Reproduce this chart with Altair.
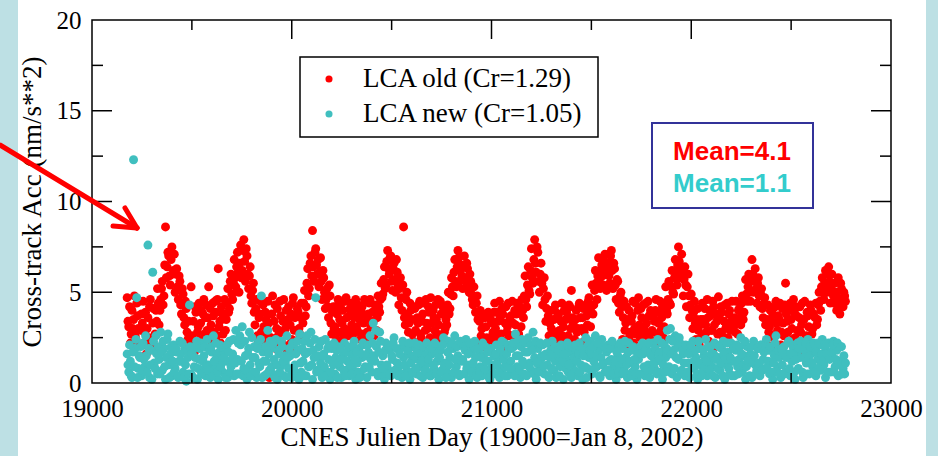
import altair as alt
import pandas as pd

# ---------------- data ----------------
START_DAY = 19176   # first sample (CNES Julian day)
STEP_DAYS = 8       # sampling step of each typed list
MID_OFFSET = 4      # the second list of each series falls between the first one's days

# LCA old (Cr=1.29) cross-track acceleration, nm/s**2 (rows of 10 samples = 80 days)
lca_old = [
    4.7, 3.1, 2.2, 4.0, 3.5, 2.6, 4.4, 3.0, 2.1, 3.8,
    4.5, 2.8, 1.6, 3.6, 4.2, 2.3, 3.3, 1.8, 4.0, 5.2,
    3.2, 4.6, 5.6, 4.8, 8.6, 6.4, 7.0, 5.4, 7.5, 6.2,
    5.0, 6.3, 4.6, 5.6, 3.8, 4.9, 3.2, 4.1, 2.4, 1.8,
    5.3, 2.2, 1.7, 3.9, 2.8, 4.4, 3.3, 2.1, 4.6, 3.6,
    2.9, 5.3, 4.1, 2.3, 3.7, 4.5, 2.6, 6.3, 3.4, 4.2,
    2.7, 4.6, 3.5, 5.2, 4.1, 6.0, 4.6, 6.8, 5.3, 7.2,
    5.0, 7.6, 6.2, 7.9, 5.6, 7.0, 5.2, 6.4, 4.4, 5.5,
    3.2, 4.6, 2.2, 3.8, 2.8, 4.3, 2.0, 3.5, 4.5, 0.3,
    2.5, 4.8, 3.4, 1.9, 4.1, 2.9, 3.7, 2.2, 4.6, 3.0,
    1.8, 4.2, 3.2, 2.4, 4.7, 3.6, 1.7, 3.9, 2.7, 4.4,
    3.3, 5.1, 4.2, 6.3, 5.2, 7.0, 8.4, 5.6, 7.4, 6.0,
    5.3, 6.9, 4.6, 5.8, 4.1, 5.2, 3.6, 4.8, 2.7, 4.2,
    3.1, 2.4, 4.6, 3.5, 2.3, 4.0, 3.0, 4.7, 2.6, 3.7,
    4.4, 2.6, 3.6, 4.6, 2.9, 3.9, 2.4, 4.2, 3.3, 4.5,
    2.8, 3.8, 4.6, 2.5, 3.4, 4.3, 2.9, 4.8, 3.9, 5.5,
    4.9, 6.4, 5.4, 7.3, 6.0, 7.0, 5.1, 6.6, 5.0, 6.1,
    4.3, 5.8, 4.0, 8.6, 3.2, 5.0, 2.8, 4.4, 3.5, 2.3,
    4.1, 1.9, 3.3, 4.5, 2.5, 3.8, 2.2, 4.6, 3.0, 3.9,
    4.7, 2.4, 3.6, 4.3, 2.7, 3.2, 4.5, 2.3, 3.9, 3.0,
    3.2, 5.0, 4.1, 5.8, 4.8, 6.8, 5.3, 7.3, 5.6, 6.5,
    5.2, 7.0, 5.6, 6.3, 5.0, 5.6, 4.6, 5.3, 3.9, 4.8,
    2.2, 4.0, 3.0, 2.0, 3.6, 2.5, 3.9, 2.1, 3.3, 2.8,
    4.4, 2.3, 3.4, 4.5, 2.7, 3.8, 2.0, 4.2, 3.1, 2.6,
    3.7, 4.5, 2.2, 3.2, 4.4, 2.7, 3.9, 4.6, 3.6, 5.9,
    4.2, 6.4, 4.9, 7.4, 5.5, 7.9, 6.1, 7.2, 5.0, 6.6,
    4.3, 5.8, 3.4, 4.8, 2.6, 4.0, 2.1, 3.5, 4.3, 2.8,
    3.8, 2.2, 4.4, 3.1, 2.0, 3.9, 2.6, 4.2, 5.1, 3.3,
    2.4, 4.0, 3.0, 4.4, 2.2, 3.6, 2.8, 4.3, 3.2, 4.7,
    3.1, 5.4, 4.3, 6.2, 4.6, 6.9, 5.2, 6.5, 5.4, 7.1,
    5.1, 6.6, 5.5, 7.3, 5.2, 6.3, 4.6, 5.6, 3.9, 5.0,
    2.4, 4.5, 3.3, 2.1, 4.0, 2.8, 3.7, 2.2, 4.4, 3.1,
    4.7, 2.5, 3.6, 4.3, 2.0, 3.3, 4.5, 2.7, 3.9, 2.3,
    3.4, 4.6, 2.2, 3.9, 2.9, 4.2, 3.1, 5.3, 3.8, 5.6,
    4.3, 6.2, 4.9, 6.8, 5.4, 7.5, 5.8, 7.1, 4.8, 6.4,
    4.2, 6.0, 3.6, 4.9, 3.0, 4.5, 2.4, 4.1, 2.1, 3.5,
    4.4, 2.6, 3.2, 4.6, 2.3, 3.7, 2.9, 4.2, 2.0, 3.4,
    4.75, 2.8, 3.9, 2.2, 4.3, 3.1, 2.5, 4.0, 3.4, 2.1,
    3.6, 4.5, 2.7, 4.1, 3.2, 4.8, 3.9, 5.7, 4.5, 6.0,
    4.5, 6.8, 5.0, 6.3, 4.4, 5.8, 4.2, 5.2, 3.6, 4.7,
    2.2, 4.3, 3.1, 2.0, 3.8, 2.6, 4.5, 2.9, 3.5, 2.1,
    4.1, 2.6, 5.5, 3.4, 2.3, 4.4, 3.0, 4.6, 2.5, 3.7,
    2.3, 4.2, 3.2, 1.5, 4.5, 2.6, 3.7, 2.2, 4.0, 3.0,
    2.1, 4.4, 3.5, 5.0, 4.0, 5.8, 4.6, 6.2, 5.0, 6.4,
    4.4, 6.0, 4.8, 5.5, 4.0, 5.8, 3.8, 5.2, 4.2, 4.8,
]
lca_old_mid = [
    3.4, 4.2, 2.7, 3.0, 4.8, 2.4, 3.7, 4.5, 2.9, 3.3,
    2.1, 3.9, 3.0, 2.5, 4.6, 1.9, 4.1, 2.7, 3.4, 4.4,
    4.0, 5.2, 4.3, 6.5, 5.8, 7.2, 5.9, 6.8, 6.0, 7.1,
    6.0, 5.3, 5.9, 4.3, 5.2, 3.6, 4.5, 2.8, 3.4, 2.0,
    2.6, 3.4, 4.2, 1.9, 3.1, 2.4, 4.0, 3.8, 2.7, 4.3,
    3.6, 2.5, 3.2, 4.4, 2.8, 3.9, 4.6, 3.1, 2.2, 3.8,
    3.8, 2.9, 4.4, 3.9, 5.6, 4.9, 5.5, 5.8, 6.4, 6.1,
    6.6, 5.8, 7.3, 6.7, 7.4, 6.0, 5.9, 4.8, 5.1, 3.9,
    4.1, 2.6, 3.6, 4.5, 2.4, 3.1, 3.9, 2.7, 3.3, 2.2,
    3.8, 2.2, 4.3, 3.0, 2.6, 4.5, 2.0, 3.4, 2.8, 4.0,
    3.5, 2.1, 3.8, 4.4, 2.9, 2.3, 4.1, 3.0, 3.6, 2.5,
    4.4, 3.7, 5.5, 4.8, 6.6, 5.9, 6.4, 7.2, 6.5, 6.8,
    6.1, 5.6, 6.2, 5.0, 4.6, 4.2, 5.4, 3.3, 3.9, 3.0,
    4.2, 3.8, 2.8, 4.3, 3.3, 2.6, 4.5, 3.6, 2.9, 4.1,
    3.2, 4.0, 2.8, 3.1, 4.3, 3.5, 2.7, 3.8, 4.6, 2.5,
    3.5, 4.4, 3.1, 3.9, 2.6, 4.0, 3.6, 4.2, 4.6, 4.7,
    5.7, 5.2, 6.7, 6.3, 6.9, 5.6, 6.3, 5.7, 6.8, 5.4,
    5.2, 4.7, 5.4, 3.6, 4.6, 3.8, 3.3, 4.0, 2.7, 4.2,
    2.9, 3.6, 4.3, 2.7, 3.4, 4.4, 2.9, 3.3, 4.2, 2.5,
    3.3, 4.0, 2.9, 3.5, 4.6, 2.5, 3.8, 4.2, 2.8, 3.5,
    4.3, 3.8, 4.9, 5.3, 6.1, 5.6, 6.4, 6.9, 6.2, 5.9,
    6.4, 5.8, 6.6, 5.4, 6.0, 4.9, 4.3, 4.6, 4.4, 3.5,
    3.4, 2.6, 3.8, 2.4, 3.1, 3.7, 2.2, 3.5, 2.6, 3.9,
    3.0, 3.9, 2.5, 3.6, 4.1, 2.3, 3.3, 2.8, 4.4, 3.6,
    2.6, 3.3, 4.0, 3.8, 2.5, 4.2, 3.1, 4.0, 4.8, 4.6,
    5.4, 5.1, 6.2, 5.8, 6.8, 6.6, 7.5, 5.6, 6.0, 5.5,
    5.2, 4.6, 4.1, 3.7, 3.3, 3.0, 2.8, 4.0, 2.5, 3.7,
    2.9, 3.4, 2.6, 4.0, 3.5, 2.4, 4.3, 3.0, 3.6, 2.3,
    3.5, 2.8, 4.2, 3.6, 3.0, 4.1, 2.3, 3.7, 4.5, 3.9,
    4.2, 3.8, 5.1, 5.5, 5.9, 5.6, 6.2, 5.9, 6.7, 6.0,
    6.3, 5.9, 7.0, 6.2, 6.6, 5.4, 5.7, 4.4, 4.8, 4.2,
    3.6, 2.9, 4.2, 3.5, 2.6, 3.4, 4.5, 3.0, 2.7, 4.0,
    3.2, 4.1, 2.8, 3.0, 4.4, 2.6, 3.7, 4.0, 2.9, 3.6,
    4.0, 2.7, 3.3, 4.5, 3.6, 2.5, 4.4, 4.0, 4.6, 4.4,
    5.3, 5.0, 5.8, 6.1, 6.5, 6.7, 6.3, 6.0, 5.7, 5.4,
    5.3, 4.8, 4.3, 4.0, 3.9, 3.3, 3.5, 2.9, 3.2, 2.6,
    3.5, 4.1, 2.8, 3.6, 4.0, 2.9, 4.5, 3.2, 3.8, 2.7,
    3.7, 4.2, 2.6, 3.4, 3.0, 4.4, 3.8, 2.9, 4.5, 3.1,
    2.8, 3.3, 4.0, 3.6, 4.4, 3.5, 4.6, 4.9, 5.3, 5.0,
    5.6, 6.0, 5.7, 5.2, 5.5, 4.8, 4.9, 4.1, 4.4, 3.2,
    3.5, 2.8, 4.0, 3.4, 2.5, 4.2, 3.3, 3.7, 4.4, 2.8,
    3.3, 4.3, 3.8, 2.8, 4.0, 3.5, 2.4, 3.9, 4.2, 2.9,
    3.6, 2.8, 4.4, 3.5, 2.4, 3.9, 3.1, 4.3, 2.7, 3.8,
    3.6, 3.2, 4.3, 4.5, 5.3, 5.0, 5.5, 5.4, 6.0, 5.6,
    5.2, 5.5, 4.4, 5.0, 4.7, 4.4, 5.5, 4.6, 5.0, 4.5,
]

# LCA new (Cr=1.05)
lca_new = [
    1.6, 0.6, 1.2, 0.3, 12.3, 1.9, 4.7, 0.8, 1.4, 0.4,
    2.2, 0.9, 1.5, 7.6, 0.3, 1.8, 6.1, 1.1, 2.6, 0.5,
    1.3, 2.8, 0.7, 1.9, 0.2, 2.4, 1.0, 1.6, 0.4, 2.1,
    0.8, 1.7, 0.3, 2.3, 1.2, 0.6, 1.9, 0.1, 1.4, 4.3,
    0.5, 1.8, 0.9, 2.0, 0.2, 1.3, 2.2, 0.7, 1.5, 0.4,
    2.4, 1.0, 0.3, 1.7, 2.6, 0.8, 1.4, 0.2, 2.1, 1.1,
    0.6, 1.9, 1.2, 0.3, 2.3, 0.9, 1.6, 0.4, 2.9, 1.3,
    0.5, 2.1, 3.1, 0.8, 1.5, 0.2, 1.9, 1.0, 2.5, 0.6,
    1.4, 0.3, 2.2, 0.9, 4.8, 1.7, 0.4, 1.2, 2.9, 0.7,
    1.9, 0.5, 1.3, 2.4, 0.2, 1.6, 0.9, 2.0, 0.4, 1.1,
    2.6, 0.8, 1.5, 0.3, 2.1, 1.0, 0.5, 1.8, 2.7, 0.6,
    1.2, 2.3, 0.4, 1.7, 0.9, 2.8, 0.2, 1.4, 4.7, 0.7,
    2.0, 1.1, 0.3, 1.6, 2.4, 0.6, 1.3, 0.2, 1.9, 1.0,
    0.5, 1.8, 2.0, 0.9, 0.3, 1.5, 2.2, 0.7, 1.2, 0.4,
    1.6, 0.8, 2.3, 0.2, 1.1, 1.9, 0.5, 1.4, 2.1, 0.9,
    0.3, 1.7, 2.6, 0.6, 3.3, 1.2, 2.0, 0.4, 2.8, 1.0,
    1.5, 0.2, 2.2, 0.8, 1.8, 0.4, 1.3, 2.5, 0.6, 1.1,
    0.9, 1.9, 0.3, 1.4, 2.1, 0.7, 1.6, 0.2, 1.2, 2.0,
    2.2, 0.5, 1.3, 0.9, 1.8, 0.3, 1.5, 1.0, 0.6, 1.7,
    0.4, 1.6, 0.8, 2.0, 1.2, 0.2, 1.8, 0.7, 2.5, 1.1,
    0.6, 2.3, 1.4, 0.3, 1.9, 2.6, 0.9, 1.5, 0.4, 2.1,
    1.3, 0.5, 2.4, 1.0, 0.2, 1.7, 2.0, 0.8, 1.4, 0.3,
    1.8, 0.9, 0.4, 1.5, 2.0, 0.6, 1.2, 0.2, 1.7, 1.0,
    0.5, 2.1, 1.3, 0.3, 1.6, 0.8, 2.2, 1.1, 0.4, 1.9,
    1.2, 0.6, 2.0, 2.7, 0.9, 1.5, 0.3, 2.4, 1.0, 1.7,
    0.4, 2.5, 1.1, 0.7, 2.8, 1.4, 0.2, 1.9, 0.8, 1.3,
    2.1, 0.5, 1.6, 1.0, 0.3, 1.8, 2.3, 0.7, 1.2, 0.4,
    1.5, 0.9, 2.0, 0.2, 1.9, 1.3, 0.6, 1.7, 0.3, 1.1,
    0.7, 1.8, 0.4, 2.2, 1.0, 0.2, 1.6, 2.5, 0.8, 1.4,
    2.3, 0.5, 1.2, 2.6, 0.9, 1.8, 0.3, 2.4, 1.1, 0.6,
    1.7, 2.1, 0.4, 1.3, 0.8, 2.0, 0.2, 1.5, 1.0, 0.5,
    1.9, 0.7, 1.4, 0.3, 2.2, 1.1, 0.6, 1.8, 0.9, 0.2,
    1.3, 2.0, 0.5, 1.6, 0.4, 1.9, 1.0, 0.3, 1.5, 2.2,
    0.8, 1.2, 2.4, 0.6, 1.7, 0.2, 2.1, 1.4, 2.9, 0.9,
    3.0, 0.5, 1.8, 2.6, 0.3, 1.3, 2.2, 0.7, 1.6, 0.4,
    2.0, 1.1, 0.3, 1.7, 2.3, 0.8, 1.4, 0.2, 1.9, 1.0,
    0.6, 1.5, 2.4, 0.4, 1.2, 2.0, 0.9, 1.6, 0.3, 2.1,
    1.4, 0.7, 1.9, 2.3, 0.2, 1.0, 1.7, 0.5, 2.2, 1.2,
    0.4, 1.8, 0.9, 1.3, 2.5, 0.6, 1.5, 0.2, 2.0, 1.1,
    1.6, 0.3, 2.3, 1.0, 0.7, 1.9, 0.4, 2.1, 1.3, 0.8,
    2.4, 1.2, 0.5, 1.8, 0.2, 1.5, 2.6, 0.9, 1.4, 0.3,
    1.0, 2.0, 0.6, 1.6, 2.3, 0.4, 1.2, 1.9, 0.2, 1.7,
    0.8, 1.4, 2.2, 0.3, 1.8, 1.1, 2.4, 0.5, 1.6, 0.9,
    1.9, 0.4, 1.3, 2.1, 0.7, 2.4, 1.0, 0.3, 1.7, 2.2,
    0.6, 1.5, 2.3, 0.9, 1.8, 0.4, 1.2, 2.0, 0.8, 0.5,
]
lca_new_mid = [
    1.0, 2.1, 0.4, 1.7, 0.9, 2.4, 0.3, 1.5, 2.0, 0.7,
    1.3, 2.6, 0.6, 1.9, 1.0, 0.2, 2.3, 0.8, 1.6, 2.0,
    0.5, 1.7, 2.3, 0.9, 1.4, 2.7, 0.3, 2.0, 1.2, 0.6,
    1.9, 0.4, 1.2, 1.6, 2.2, 0.3, 1.0, 1.8, 0.5, 2.0,
    1.6, 0.3, 1.4, 2.3, 0.8, 1.9, 0.5, 1.2, 2.0, 0.9,
    0.7, 1.8, 2.0, 0.4, 1.2, 2.2, 0.6, 1.7, 0.9, 1.5,
    1.4, 0.3, 2.1, 1.7, 0.6, 1.3, 2.4, 1.1, 0.5, 2.2,
    2.6, 1.2, 0.4, 2.3, 0.7, 1.6, 2.8, 0.4, 1.4, 2.0,
    0.6, 1.9, 1.1, 2.4, 0.3, 1.2, 2.0, 0.5, 1.6, 2.3,
    0.9, 2.2, 0.3, 1.0, 1.8, 0.6, 2.3, 1.2, 1.5, 0.3,
    1.4, 1.9, 0.4, 2.2, 0.7, 1.6, 2.3, 0.2, 1.1, 1.9,
    0.4, 1.6, 2.6, 0.9, 2.2, 1.0, 1.8, 2.4, 0.6, 1.5,
    0.7, 2.3, 1.5, 0.9, 0.4, 1.9, 2.1, 0.6, 1.2, 2.2,
    1.4, 0.3, 1.1, 1.9, 1.3, 0.7, 0.4, 1.7, 2.0, 1.0,
    0.5, 2.0, 1.3, 1.7, 0.6, 0.3, 1.6, 2.2, 0.8, 1.5,
    2.1, 0.9, 1.3, 2.2, 1.5, 2.9, 0.6, 1.7, 2.3, 0.5,
    0.8, 1.8, 1.0, 2.0, 0.5, 1.5, 2.2, 0.7, 1.9, 0.4,
    1.6, 0.5, 2.3, 1.0, 0.4, 1.8, 2.2, 1.1, 0.6, 1.5,
    0.8, 1.7, 2.1, 0.4, 1.2, 2.0, 0.7, 2.2, 1.3, 0.4,
    1.9, 1.0, 2.2, 0.5, 1.6, 1.4, 0.6, 2.1, 1.0, 0.3,
    1.7, 1.0, 2.0, 2.2, 0.6, 1.3, 2.0, 0.5, 2.3, 1.2,
    2.0, 1.8, 0.8, 1.6, 2.2, 0.6, 1.1, 2.3, 0.4, 1.9,
    0.6, 1.4, 2.2, 0.8, 1.2, 1.7, 0.3, 1.9, 0.9, 1.5,
    1.6, 1.0, 0.6, 1.9, 2.3, 1.3, 0.4, 1.6, 2.1, 0.8,
    1.9, 2.2, 0.4, 1.5, 2.3, 0.7, 2.0, 1.2, 0.5, 2.2,
    1.7, 0.9, 2.1, 1.8, 0.5, 2.3, 1.1, 0.6, 2.2, 1.5,
    0.9, 1.5, 2.2, 0.4, 1.4, 0.8, 1.6, 2.0, 0.3, 1.8,
    0.4, 2.1, 1.2, 1.6, 0.8, 2.2, 1.0, 0.4, 2.0, 1.4,
    2.1, 1.2, 1.6, 0.6, 1.9, 1.5, 0.9, 0.3, 2.1, 1.8,
    1.6, 2.0, 0.8, 1.5, 2.2, 0.4, 1.4, 1.0, 2.0, 1.9,
    0.7, 1.2, 1.9, 2.3, 0.5, 1.2, 1.7, 0.6, 2.2, 1.3,
    0.6, 2.3, 1.0, 1.7, 1.2, 0.4, 2.0, 1.3, 0.5, 1.6,
    0.5, 1.6, 2.2, 0.9, 1.8, 0.7, 2.2, 1.7, 0.7, 1.1,
    1.9, 0.5, 1.6, 1.3, 2.2, 1.0, 0.6, 1.9, 1.8, 2.4,
    1.6, 2.3, 0.8, 1.4, 2.0, 2.5, 0.6, 1.8, 1.1, 2.1,
    0.6, 1.6, 2.1, 0.9, 1.2, 1.8, 0.5, 2.3, 1.1, 0.4,
    1.8, 0.9, 1.2, 2.0, 0.7, 1.6, 0.4, 2.2, 1.3, 0.8,
    2.0, 1.1, 0.4, 1.6, 1.3, 2.2, 0.8, 1.4, 0.4, 1.9,
    1.2, 2.1, 0.5, 2.0, 1.6, 1.0, 2.3, 0.9, 1.2, 0.4,
    2.0, 1.2, 1.5, 0.5, 1.9, 1.1, 2.1, 0.7, 1.7, 2.0,
    0.8, 1.8, 2.0, 0.6, 1.1, 2.2, 0.6, 1.8, 0.5, 1.9,
    1.6, 0.5, 1.4, 2.2, 0.8, 1.6, 2.1, 0.6, 1.3, 2.2,
    1.9, 2.3, 0.6, 1.4, 2.2, 0.5, 1.4, 2.0, 1.1, 2.2,
    0.6, 1.7, 2.2, 0.9, 1.6, 1.2, 2.0, 1.6, 0.6, 1.3,
    1.7, 2.1, 0.6, 1.3, 2.2, 1.0, 2.0, 0.5, 1.5, 1.1,
]

series_names = ["LCA old (Cr=1.29)", "LCA new (Cr=1.05)"]
series_colors = ["#FF0000", "#40BFBF"]
mean_labels = ["Mean=4.1", "Mean=1.1"]
mean_colors = ["#FF0000", "#33CCCC"]

x_major = [19000, 20000, 21000, 22000, 23000]
x_minor = [19500, 20500, 21500, 22500]
y_major = [0, 5, 10, 15, 20]
y_minor = [2.5, 7.5, 12.5, 17.5]

x_title = "CNES Julien Day (19000=Jan 8, 2002)"
y_title = "Cross-track Acc (nm/s**2)"

# ---------------- layout ----------------
W, H = 799, 363
SERIF = "Liberation Serif"
STRIP = "#BDE0E4"
DOT = 80


def frame_of(values, offset):
    return pd.DataFrame({
        "day": [START_DAY + offset + STEP_DAYS * i for i in range(len(values))],
        "acc": values,
    })


old_df = pd.concat([frame_of(lca_old, 0), frame_of(lca_old_mid, MID_OFFSET)], ignore_index=True)
new_df = pd.concat([frame_of(lca_new, 0), frame_of(lca_new_mid, MID_OFFSET)], ignore_index=True)

x_scale = alt.Scale(domain=[19000, 23000], nice=False, zero=False)
y_scale = alt.Scale(domain=[0, 20], nice=False)

x_axis = alt.Axis(values=x_major, format="d", ticks=False, domain=False, grid=False,
                  labelFont=SERIF, labelFontSize=25, labelColor="black", labelPadding=13,
                  labelFlush=False, labelOverlap=False,
                  titleFont=SERIF, titleFontSize=27, titleFontWeight="normal",
                  titleColor="black", titlePadding=3)
y_axis = alt.Axis(values=y_major, format="d", ticks=False, domain=False, grid=False,
                  labelFont=SERIF, labelFontSize=25, labelColor="black", labelPadding=11,
                  labelFlush=False, labelOverlap=False,
                  titleFont=SERIF, titleFontSize=27, titleFontWeight="normal",
                  titleColor="black", titlePadding=10)


def X():
    return alt.X("day:Q", scale=x_scale, axis=x_axis, title=x_title)


def Y():
    return alt.Y("acc:Q", scale=y_scale, axis=y_axis, title=y_title)


one = pd.DataFrame({"k": [0]})

# side strips of the slide background
strips = alt.layer(
    alt.Chart(one).mark_rect(color=STRIP).encode(
        x=alt.value(-92), x2=alt.value(-74), y=alt.value(-20), y2=alt.value(H + 73)),
    alt.Chart(one).mark_rect(color=STRIP).encode(
        x=alt.value(834), x2=alt.value(W + 47), y=alt.value(-20), y2=alt.value(H + 73)),
)

pts_old = alt.Chart(old_df).mark_circle(size=DOT, opacity=1, color=series_colors[0]).encode(x=X(), y=Y())
pts_new = alt.Chart(new_df).mark_circle(size=DOT, opacity=1, color=series_colors[1]).encode(x=X(), y=Y())

xmaj = pd.DataFrame({"day": x_major[1:-1]})
xmin = pd.DataFrame({"day": x_minor})
ymaj = pd.DataFrame({"acc": y_major[1:-1]})
ymin = pd.DataFrame({"acc": y_minor})

tick_style = dict(color="black", strokeWidth=1.5)
ticks = alt.layer(
    alt.Chart(xmaj).mark_rule(**tick_style).encode(x=X(), y=alt.value(H), y2=alt.value(H - 19)),
    alt.Chart(xmaj).mark_rule(**tick_style).encode(x=X(), y=alt.value(0), y2=alt.value(19)),
    alt.Chart(xmin).mark_rule(**tick_style).encode(x=X(), y=alt.value(H), y2=alt.value(H - 10)),
    alt.Chart(xmin).mark_rule(**tick_style).encode(x=X(), y=alt.value(0), y2=alt.value(10)),
    alt.Chart(ymaj).mark_rule(**tick_style).encode(y=Y(), x=alt.value(0), x2=alt.value(20)),
    alt.Chart(ymaj).mark_rule(**tick_style).encode(y=Y(), x=alt.value(W), x2=alt.value(W - 20)),
    alt.Chart(ymin).mark_rule(**tick_style).encode(y=Y(), x=alt.value(0), x2=alt.value(11)),
    alt.Chart(ymin).mark_rule(**tick_style).encode(y=Y(), x=alt.value(W), x2=alt.value(W - 11)),
)

frame = alt.Chart(one).mark_rect(fill="transparent", stroke="black", strokeWidth=1.5).encode(
    x=alt.value(0), x2=alt.value(W), y=alt.value(0), y2=alt.value(H))

# legend box
leg = [
    alt.Chart(one).mark_rect(fill="white", stroke="black", strokeWidth=1.5).encode(
        x=alt.value(208), x2=alt.value(506), y=alt.value(37), y2=alt.value(117)),
]
for name, col, yy in zip(series_names, series_colors, [59, 94]):
    leg.append(alt.Chart(one).mark_circle(size=50, opacity=1, color=col).encode(
        x=alt.value(237), y=alt.value(yy)))
    leg.append(alt.Chart(pd.DataFrame({"t": [name]})).mark_text(
        font=SERIF, fontSize=27, color="black", align="left", baseline="alphabetic").encode(
        text="t:N", x=alt.value(271), y=alt.value(yy + 8)))

# mean box
means = [
    alt.Chart(one).mark_rect(fill="white", stroke="#333399", strokeWidth=2).encode(
        x=alt.value(560), x2=alt.value(721), y=alt.value(103), y2=alt.value(188)),
]
for lab, col, yy in zip(mean_labels, mean_colors, [140, 172]):
    means.append(alt.Chart(pd.DataFrame({"t": [lab]})).mark_text(
        font="Liberation Sans", fontSize=26, fontWeight="bold", color=col,
        align="center", baseline="alphabetic").encode(
        text="t:N", x=alt.value(640), y=alt.value(yy)))

# red arrow pointing at the first points
arrow_style = dict(color="#FF0000", strokeWidth=5, strokeCap="round")
arrow = alt.layer(
    alt.Chart(one).mark_rule(**arrow_style).encode(
        x=alt.value(-92), y=alt.value(125), x2=alt.value(45), y2=alt.value(208)),
    alt.Chart(one).mark_rule(**arrow_style).encode(
        x=alt.value(45), y=alt.value(208), x2=alt.value(33), y2=alt.value(188)),
    alt.Chart(one).mark_rule(**arrow_style).encode(
        x=alt.value(45), y=alt.value(208), x2=alt.value(21), y2=alt.value(206)),
)

chart = alt.layer(
    strips, pts_old, pts_new, ticks, frame, *leg, *means, arrow
).properties(
    width=W, height=H,
    autosize=alt.AutoSizeParams(type="none"),
    padding={"left": 92, "top": 20, "right": 47, "bottom": 73},
    background="white",
).configure_view(stroke="transparent")

chart.save("out.html", embed_options={"renderer": "svg", "actions": False})
